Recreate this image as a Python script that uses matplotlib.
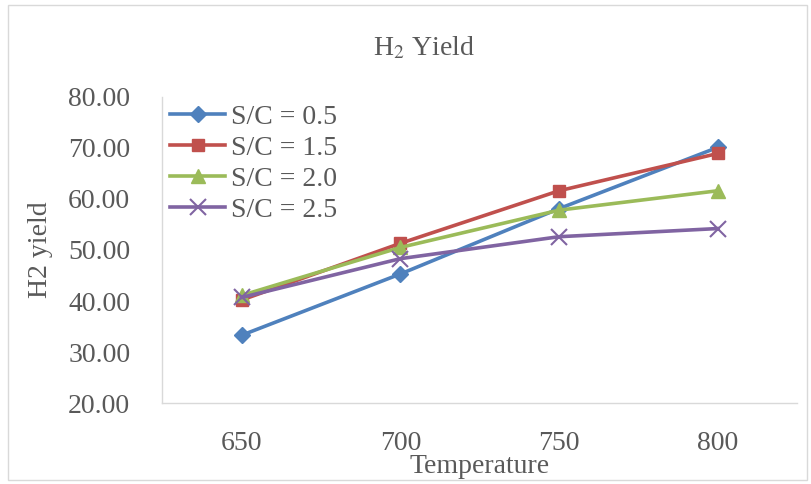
import matplotlib.pyplot as plt
from matplotlib.patches import Rectangle

# data
temps = ['650', '700', '750', '800']
sc_05 = [33.3, 45.3, 58.1, 70.1]
sc_15 = [40.2, 51.3, 61.6, 68.9]
sc_20 = [41.1, 50.5, 57.8, 61.6]
sc_25 = [40.7, 48.3, 52.6, 54.2]

plt.rcParams['font.family'] = ['Liberation Serif', 'DejaVu Serif']
txt = '#595959'
fs = 20

fig = plt.figure(figsize=(8.11, 4.84), dpi=100)
ax = fig.add_axes([0.2, 0.167, 0.783, 0.633])

x = range(len(temps))
ax.plot(x, sc_05, color='#4F81BD', lw=2.6, marker='D', ms=8, label='S/C = 0.5')
ax.plot(x, sc_15, color='#C0504D', lw=2.6, marker='s', ms=9, label='S/C = 1.5')
ax.plot(x, sc_20, color='#9BBB59', lw=2.6, marker='^', ms=10, label='S/C = 2.0')
ax.plot(x, sc_25, color='#8064A2', lw=2.6, marker='x', ms=11, mew=1.5, label='S/C = 2.5')

ax.set_xlim(-0.5, 3.5)
ax.set_ylim(20, 80)
ax.set_xticks(list(x))
ax.set_xticklabels(temps)
ax.set_yticks(range(20, 81, 10))
ax.set_yticklabels(['%.2f' % v for v in range(20, 81, 10)])
ax.tick_params(length=0, labelsize=fs, colors=txt)
ax.tick_params(axis='y', pad=23)
ax.tick_params(axis='x', pad=20)

for s in ['top', 'right']:
    ax.spines[s].set_visible(False)
for s in ['left', 'bottom']:
    ax.spines[s].set_color('#d9d9d9')
    ax.spines[s].set_linewidth(1)

ax.set_xlabel('Temperature', fontsize=fs, color=txt, labelpad=-1.5)
ax.set_ylabel('H2 yield', fontsize=fs, color=txt, labelpad=11)

leg = ax.legend(loc='upper left', bbox_to_anchor=(-0.01, 1.02), frameon=False,
                fontsize=fs, labelcolor=txt, handlelength=2.0, handletextpad=0.2,
                labelspacing=0.2, borderaxespad=0.1)

fig.text(0.522, 0.9, 'H$_2$ Yield', fontsize=fs, color=txt, ha='center', va='center',
         math_fontfamily='stix')

fig.patches.append(Rectangle((0.01, 0.008), 0.985, 0.982, transform=fig.transFigure,
                             fill=False, edgecolor='#d9d9d9', lw=1))

plt.savefig('out.png', dpi=100)
